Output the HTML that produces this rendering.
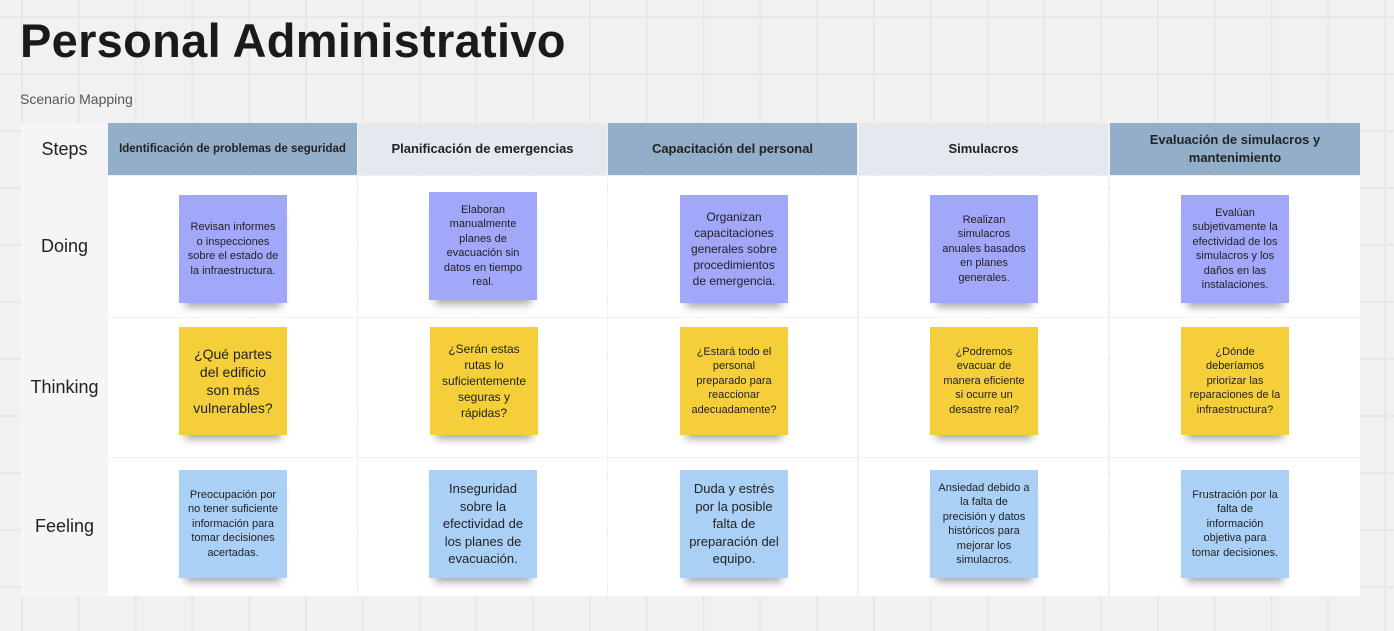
<!DOCTYPE html>
<html><head><meta charset="utf-8"><style>
body{margin:0;width:1394px;height:631px;overflow:hidden;background-color:#f1f1f1;
background-image:linear-gradient(#e7e7e7 2px,transparent 2px),linear-gradient(90deg,#e7e7e7 2px,transparent 2px);
background-size:56.8px 57px;background-position:21px 16px;font-family:"Liberation Sans",sans-serif;position:relative}
.t{position:absolute;left:20px;top:13px;font-size:47px;font-weight:bold;color:#1a1a1a;letter-spacing:0.3px}
.s{position:absolute;left:20px;top:91px;font-size:14px;color:#555}
.lc{position:absolute;left:21px;top:123px;width:87px;height:473px;background:#f5f5f5}
.lab{position:absolute;left:21px;width:87px;text-align:center;font-size:18px;color:#222}
.h{position:absolute;top:123px;height:52px;width:249px;display:flex;align-items:center;justify-content:center;text-align:center;font-size:13px;font-weight:bold;color:#222;box-sizing:border-box;padding:0 4px;line-height:18px;white-space:nowrap}
.d{background:#93aec9}.l{background:#e4e9f0}
.c{position:absolute;background:#fff;width:249px}
.n{position:absolute;width:108px;height:108px;display:flex;align-items:center;justify-content:center;text-align:center;font-size:11px;line-height:14.5px;color:#222;box-sizing:border-box;padding:4px 8px;box-shadow:0 10px 8px -6px rgba(0,0,0,.35)}
.p{background:#a1a7f9}.y{background:#f4cf3a}.b{background:#abd0f6}
</style></head><body>
<div class="t">Personal Administrativo</div>
<div class="s">Scenario Mapping</div>
<div class="lc"></div>
<div class="lab" style="top:139px">Steps</div>
<div class="lab" style="top:236px">Doing</div>
<div class="lab" style="top:377px">Thinking</div>
<div class="lab" style="top:516px">Feeling</div>

<div class="h d" style="left:108px;font-size:11.5px">Identificación de problemas de seguridad</div>
<div class="h l" style="left:358px">Planificación de emergencias</div>
<div class="h d" style="left:608px">Capacitación del personal</div>
<div class="h l" style="left:859px">Simulacros</div>
<div class="h d" style="left:1110px;width:250px;white-space:normal">Evaluación de simulacros y mantenimiento</div>

<div class="c" style="left:108px;top:176px;height:141px"></div>
<div class="c" style="left:358px;top:176px;height:141px"></div>
<div class="c" style="left:608px;top:176px;height:141px"></div>
<div class="c" style="left:859px;top:176px;height:141px"></div>
<div class="c" style="left:1110px;top:176px;height:141px;width:250px"></div>
<div class="c" style="left:108px;top:318px;height:139px"></div>
<div class="c" style="left:358px;top:318px;height:139px"></div>
<div class="c" style="left:608px;top:318px;height:139px"></div>
<div class="c" style="left:859px;top:318px;height:139px"></div>
<div class="c" style="left:1110px;top:318px;height:139px;width:250px"></div>
<div class="c" style="left:108px;top:458px;height:138px"></div>
<div class="c" style="left:358px;top:458px;height:138px"></div>
<div class="c" style="left:608px;top:458px;height:138px"></div>
<div class="c" style="left:859px;top:458px;height:138px"></div>
<div class="c" style="left:1110px;top:458px;height:138px;width:250px"></div>

<div class="n p" style="left:179px;top:195px">Revisan informes o inspecciones sobre el estado de la infraestructura.</div>
<div class="n p" style="left:429px;top:192px">Elaboran manualmente planes de evacuación sin datos en tiempo real.</div>
<div class="n p" style="left:680px;top:195px;font-size:12px;line-height:16px">Organizan capacitaciones generales sobre procedimientos de emergencia.</div>
<div class="n p" style="left:930px;top:195px">Realizan simulacros anuales basados en planes generales.</div>
<div class="n p" style="left:1181px;top:195px">Evalúan subjetivamente la efectividad de los simulacros y los daños en las instalaciones.</div>

<div class="n y" style="left:179px;top:327px;font-size:14px;line-height:18px">¿Qué partes del edificio son más vulnerables?</div>
<div class="n y" style="left:430px;top:327px;font-size:12px;line-height:16px">¿Serán estas rutas lo suficientemente seguras y rápidas?</div>
<div class="n y" style="left:680px;top:327px">¿Estará todo el personal preparado para reaccionar adecuadamente?</div>
<div class="n y" style="left:930px;top:327px">¿Podremos evacuar de manera eficiente si ocurre un desastre real?</div>
<div class="n y" style="left:1181px;top:327px">¿Dónde deberíamos priorizar las reparaciones de la infraestructura?</div>

<div class="n b" style="left:179px;top:470px">Preocupación por no tener suficiente información para tomar decisiones acertadas.</div>
<div class="n b" style="left:429px;top:470px;font-size:13px;line-height:17.5px">Inseguridad sobre la efectividad de los planes de evacuación.</div>
<div class="n b" style="left:680px;top:470px;font-size:13px;line-height:17.5px">Duda y estrés por la posible falta de preparación del equipo.</div>
<div class="n b" style="left:930px;top:470px">Ansiedad debido a la falta de precisión y datos históricos para mejorar los simulacros.</div>
<div class="n b" style="left:1181px;top:470px">Frustración por la falta de información objetiva para tomar decisiones.</div>
</body></html>
